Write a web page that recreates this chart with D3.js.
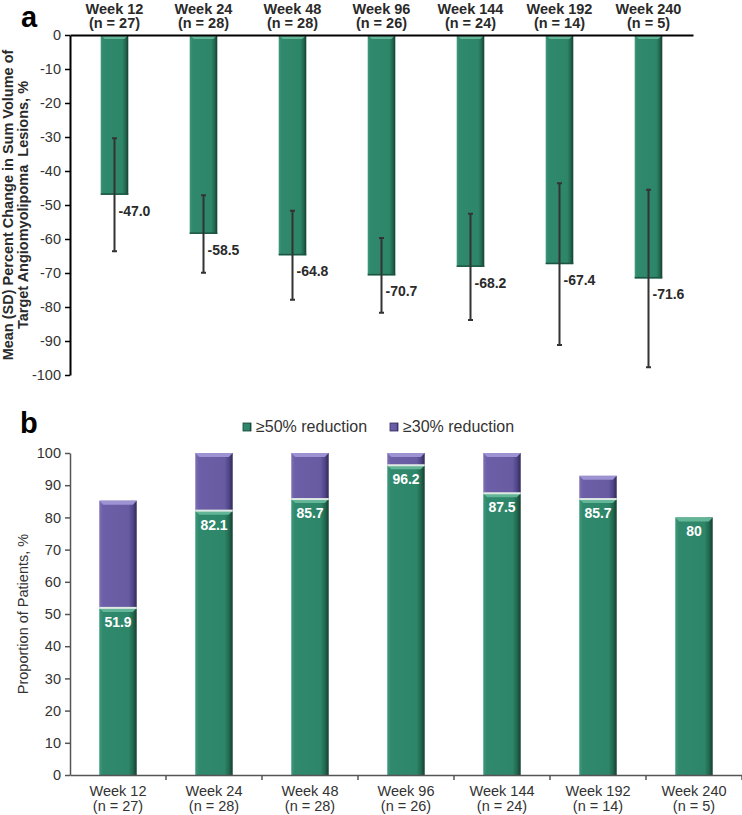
<!DOCTYPE html>
<html>
<head>
<meta charset="utf-8">
<script src="https://cdn.jsdelivr.net/npm/d3@7"></script>
<style>
  body { margin: 0; background: #fff; }
  text { font-family: "Liberation Sans", Arial, sans-serif; }
</style>
</head>
<body>
<div id="chart"></div>
<script>
const weeks = ['Week 12', 'Week 24', 'Week 48', 'Week 96', 'Week 144', 'Week 192', 'Week 240'];
const nLabels = ['(n = 27)', '(n = 28)', '(n = 28)', '(n = 26)', '(n = 24)', '(n = 14)', '(n = 5)'];

// panel a: mean (SD) percent change
const meanChange = [-47.0, -58.5, -64.8, -70.7, -68.2, -67.4, -71.6];
const sdChange = [16.6, 11.4, 13.1, 11.0, 15.6, 23.8, 26.1];
const ticksA = [0, -10, -20, -30, -40, -50, -60, -70, -80, -90, -100];

// panel b: proportion of patients (≥30% is cumulative total)
const reduction50 = [51.9, 82.1, 85.7, 96.2, 87.5, 85.7, 80];
const reduction30 = [85.2, 100, 100, 100, 100, 92.9, 80];
const ticksB = [0, 10, 20, 30, 40, 50, 60, 70, 80, 90, 100];
const legendLabels = ['≥50% reduction', '≥30% reduction'];

const svg = d3.select('#chart')
  .append('svg')
  .attr('width', 742)
  .attr('height', 815);

const defs = svg.append('defs');
const palettes = {
  green: { stops: ['#3c9879', '#31896d', '#2e8669', '#226851', '#153d30'], bevel: '#62b596' },
  purple: { stops: ['#7d70b6', '#6c5fa7', '#685ba2', '#504588', '#302a58'], bevel: '#9d93d2' }
};
Object.keys(palettes).forEach(k => {
  const grad = defs.append('linearGradient').attr('id', 'grad-' + k)
    .attr('x1', 0).attr('x2', 1).attr('y1', 0).attr('y2', 0);
  [0, 0.1, 0.78, 0.9, 1].forEach((o, i) => {
    grad.append('stop').attr('offset', o).attr('stop-color', palettes[k].stops[i]);
  });
});

// bar with a bevelled look, like the Excel original
function bevelBar(g, x, y, w, h, kind, topBevel) {
  if (h <= 0) return;
  g.append('rect')
    .attr('x', x).attr('y', y).attr('width', w).attr('height', h)
    .attr('fill', 'url(#grad-' + kind + ')');
  const b = Math.min(4, h / 2);
  if (topBevel) {
    g.append('path')
      .attr('d', `M${x},${y}H${x + w}L${x + w - b},${y + b}H${x + b}Z`)
      .attr('fill', palettes[kind].bevel);
  }
}

// ---------- panel a ----------
const xA = d3.scaleBand().domain(weeks).range([70, 693]).paddingInner(0.69).paddingOuter(0.345);
const yA = d3.scaleLinear().domain([-100, 0]).range([375, 35]);
const gA = svg.append('g');

weeks.forEach((w, i) => {
  const y0 = yA(0), y1 = yA(meanChange[i]);
  bevelBar(gA, xA(w), y0, xA.bandwidth(), y1 - y0, 'green', true);
  gA.append('rect')
    .attr('x', xA(w)).attr('y', y1 - 1.5)
    .attr('width', xA.bandwidth()).attr('height', 1.5)
    .attr('fill', '#1d5443');
});

// error bars
weeks.forEach((w, i) => {
  const cx = xA(w) + xA.bandwidth() / 2;
  const top = yA(meanChange[i] + sdChange[i]);
  const bot = yA(meanChange[i] - sdChange[i]);
  gA.append('path')
    .attr('d', `M${cx},${top}V${bot}M${cx - 2.5},${top}H${cx + 2.5}M${cx - 2.5},${bot}H${cx + 2.5}`)
    .attr('stroke', '#333').attr('stroke-width', 2).attr('fill', 'none');
  gA.append('text')
    .attr('x', cx + 4).attr('y', yA(meanChange[i]) + 21)
    .attr('font-size', 14).attr('font-weight', 'bold').attr('fill', '#2a2a2a')
    .text(meanChange[i].toFixed(1));
});

// axes
gA.append('g')
  .attr('transform', 'translate(0,' + yA(0) + ')')
  .call(d3.axisTop(xA).tickSize(0).tickSizeOuter(0).tickFormat(''))
  .call(g => g.select('.domain').attr('stroke', '#000').attr('stroke-width', 2));

gA.append('g')
  .attr('transform', 'translate(70,0)')
  .call(d3.axisLeft(yA).tickValues(ticksA).tickSize(5).tickSizeOuter(0).tickPadding(4).tickFormat(d => String(d)))
  .call(g => g.select('.domain').attr('stroke', '#000').attr('stroke-width', 2))
  .call(g => g.selectAll('.tick line').attr('stroke', '#000').attr('stroke-width', 1.5))
  .call(g => g.selectAll('.tick text').attr('font-size', 14.5).attr('fill', '#333')
    .attr('font-family', '"Liberation Sans", Arial, sans-serif'));

// column headers
const headA = gA.selectAll('.head-a').data(weeks).enter().append('text')
  .attr('class', 'head-a')
  .attr('text-anchor', 'middle')
  .attr('font-size', 14.5).attr('font-weight', 'bold').attr('fill', '#2a2a2a');
headA.append('tspan').attr('x', d => xA(d) + xA.bandwidth() / 2).attr('y', 13.5).text(d => d);
headA.append('tspan').attr('x', d => xA(d) + xA.bandwidth() / 2).attr('y', 27.5).text((d, i) => nLabels[i]);

// y title
const titleA = gA.append('text')
  .attr('transform', 'translate(0,205) rotate(-90)')
  .attr('text-anchor', 'middle')
  .attr('font-size', 14.5).attr('font-weight', 'bold').attr('fill', '#2a2a2a')
  .style('white-space', 'pre');
titleA.append('tspan').attr('x', 0).attr('y', 12.5).text('Mean (SD) Percent Change in Sum Volume of');
titleA.append('tspan').attr('x', 0).attr('y', 28).text('Target Angiomyolipoma  Lesions, %');

svg.append('text').attr('x', 21).attr('y', 27)
  .attr('font-size', 29).attr('font-weight', 'bold').attr('fill', '#000').text('a');

// ---------- panel b ----------
const xB = d3.scaleBand().domain(weeks).range([70, 742]).paddingInner(0.61).paddingOuter(0.305);
const yB = d3.scaleLinear().domain([0, 100]).range([775, 453]);
const gB = svg.append('g');

weeks.forEach((w, i) => {
  const x = xB(w), bw = xB.bandwidth();
  // ≥50% segment
  bevelBar(gB, x, yB(reduction50[i]), bw, yB(0) - yB(reduction50[i]), 'green', true);
  // ≥30% segment stacked on top
  const hp = yB(reduction50[i]) - yB(reduction30[i]);
  if (hp > 0) {
    bevelBar(gB, x, yB(reduction30[i]), bw, hp, 'purple', true);
    gB.append('rect')
      .attr('x', x).attr('y', yB(reduction50[i]) - 1)
      .attr('width', bw).attr('height', 2)
      .attr('fill', '#dfe9e4');
  }
  gB.append('text')
    .attr('x', x + bw / 2).attr('y', yB(reduction50[i]) + 19)
    .attr('text-anchor', 'middle')
    .attr('font-size', 14).attr('font-weight', 'bold').attr('fill', '#fff')
    .text(reduction50[i]);
});

gB.append('g')
  .attr('transform', 'translate(0,' + yB(0) + ')')
  .call(d3.axisBottom(xB).tickSize(0).tickSizeOuter(0).tickFormat(''))
  .call(g => g.select('.domain').attr('stroke', '#555').attr('stroke-width', 1.5));

// category boundary ticks
gB.selectAll('.bound').data(weeks).enter().append('line')
  .attr('class', 'bound')
  .attr('x1', d => xB(d) + xB.bandwidth() / 2 + xB.step() / 2)
  .attr('x2', d => xB(d) + xB.bandwidth() / 2 + xB.step() / 2)
  .attr('y1', yB(0)).attr('y2', yB(0) + 5)
  .attr('stroke', '#555').attr('stroke-width', 1.5);

gB.append('g')
  .attr('transform', 'translate(70,0)')
  .call(d3.axisLeft(yB).tickValues(ticksB).tickSize(5).tickSizeOuter(0).tickPadding(4).tickFormat(d => String(d)))
  .call(g => g.select('.domain').attr('stroke', '#555').attr('stroke-width', 1.5))
  .call(g => g.selectAll('.tick line').attr('stroke', '#555').attr('stroke-width', 1.5))
  .call(g => g.selectAll('.tick text').attr('font-size', 14.5).attr('fill', '#333')
    .attr('font-family', '"Liberation Sans", Arial, sans-serif'));

const headB = gB.selectAll('.head-b').data(weeks).enter().append('text')
  .attr('class', 'head-b')
  .attr('text-anchor', 'middle')
  .attr('font-size', 14.5).attr('fill', '#333');
headB.append('tspan').attr('x', d => xB(d) + xB.bandwidth() / 2).attr('y', 796).text(d => d);
headB.append('tspan').attr('x', d => xB(d) + xB.bandwidth() / 2).attr('y', 810.5).text((d, i) => nLabels[i]);

gB.append('text')
  .attr('transform', 'translate(28,614) rotate(-90)')
  .attr('text-anchor', 'middle')
  .attr('font-size', 14.5).attr('fill', '#333')
  .text('Proportion of Patients, %');

svg.append('text').attr('x', 20).attr('y', 433)
  .attr('font-size', 29).attr('font-weight', 'bold').attr('fill', '#000').text('b');

// legend
const legend = svg.append('g');
const legendX = [243, 390];
['green', 'purple'].forEach((k, i) => {
  legend.append('rect')
    .attr('x', legendX[i]).attr('y', 423).attr('width', 8).attr('height', 8)
    .attr('fill', 'url(#grad-' + k + ')')
    .attr('stroke', palettes[k].stops[4]).attr('stroke-width', 0.8);
  legend.append('text')
    .attr('x', legendX[i] + 13).attr('y', 432)
    .attr('font-size', 16).attr('fill', '#333')
    .text(legendLabels[i]);
});
</script>
</body>
</html>
